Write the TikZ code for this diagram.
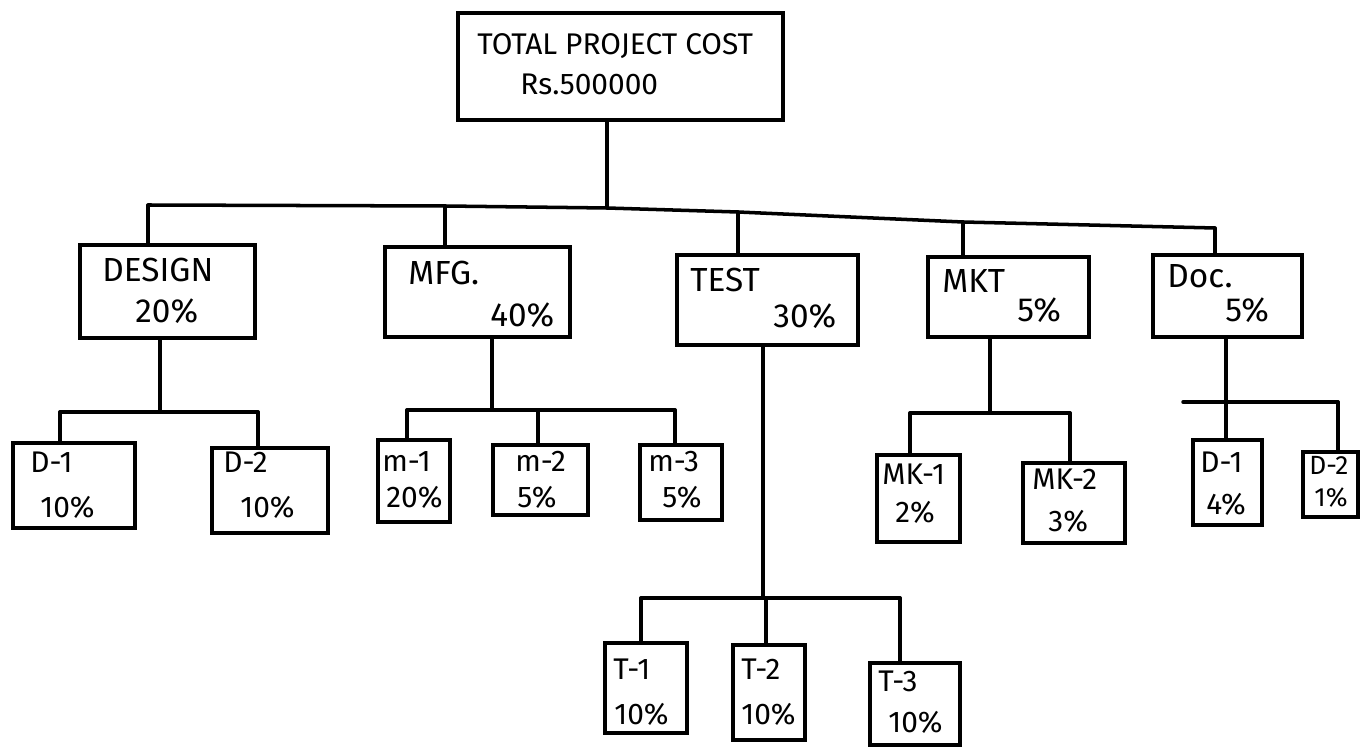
\documentclass[tikz,border=0pt]{standalone}
\usepackage{fontspec}
\setmainfont{Fira Sans}
\usetikzlibrary{fit}
\begin{document}
\begin{tikzpicture}[x=0.02cm,y=-0.02cm,
  box/.style={draw, line width=2pt, rectangle, inner sep=0pt},
  link/.style={line width=2pt, line cap=round, line join=round},
  big/.style={anchor=base west, inner sep=0pt, font=\fontsize{19}{22}\selectfont},
  top/.style={anchor=base west, inner sep=0pt, font=\fontsize{17}{20}\selectfont},
  small/.style={anchor=base west, inner sep=0pt, font=\fontsize{17}{20}\selectfont},
  tiny/.style={anchor=base west, inner sep=0pt, font=\fontsize{15}{18}\selectfont}]
\useasboundingbox[fill=white] (0,0) rectangle (1367,749);

% ---- boxes ----
\node[box, fit={(458,13) (783,120)}] (root) {};
\node[box, fit={(80,245) (255,338)}] (design) {};
\node[box, fit={(385,247) (570,337)}] (mfg) {};
\node[box, fit={(677,255) (858,345)}] (test) {};
\node[box, fit={(928,257) (1089,337)}] (mkt) {};
\node[box, fit={(1153,255) (1302,337)}] (doc) {};

\node[box, fit={(13,443) (135,528)}] (d1) {};
\node[box, fit={(212,448) (328,533)}] (d2) {};
\node[box, fit={(378,440) (450,522)}] (m1) {};
\node[box, fit={(493,445) (588,515)}] (m2) {};
\node[box, fit={(640,445) (722,520)}] (m3) {};
\node[box, fit={(605,643) (687,733)}] (t1) {};
\node[box, fit={(733,645) (805,740)}] (t2) {};
\node[box, fit={(870,663) (960,745)}] (t3) {};
\node[box, fit={(877,455) (960,542)}] (mk1) {};
\node[box, fit={(1023,463) (1125,543)}] (mk2) {};
\node[box, fit={(1193,440) (1262,525)}] (dd1) {};
\node[box, fit={(1303,452) (1358,517)}] (dd2) {};

% ---- labels ----
\node[top] (rootA) at (477,55) {TOTAL PROJECT COST};
\node[top] (rootB) at (520,95) {Rs.500000};
\node[big] (designA) at (102,282) {DESIGN};
\node[big] (designB) at (135,323) {20\%};
\node[big] (mfgA) at (408,285) {MFG.};
\node[big] (mfgB) at (490,327) {40\%};
\node[big] (testA) at (690,292) {TEST};
\node[big] (testB) at (773,328) {30\%};
\node[big] (mktA) at (942,293) {MKT};
\node[big] (mktB) at (1017,322) {5\%};
\node[big] (docA) at (1167,288) {Doc.};
\node[big] (docB) at (1225,322) {5\%};

\node[small] (d1A) at (30,473) {D-1};
\node[small] (d1B) at (40,518) {10\%};
\node[small] (d2A) at (223,473) {D-2};
\node[small] (d2B) at (240,518) {10\%};
\node[small] (m1A) at (382,472) {m-1};
\node[small] (m1B) at (386,508) {20\%};
\node[small] (m2A) at (515,472) {m-2};
\node[small] (m2B) at (517,508) {5\%};
\node[small] (m3A) at (648,472) {m-3};
\node[small] (m3B) at (662,508) {5\%};
\node[small] (t1A) at (613,680) {T-1};
\node[small] (t1B) at (614,725) {10\%};
\node[small] (t2A) at (741,680) {T-2};
\node[small] (t2B) at (741,725) {10\%};
\node[small] (t3A) at (878,692) {T-3};
\node[small] (t3B) at (888,733) {10\%};
\node[small] (mk1A) at (882,485) {MK-1};
\node[small] (mk1B) at (895,523) {2\%};
\node[small] (mk2A) at (1032,490) {MK-2};
\node[small] (mk2B) at (1048,532) {3\%};
\node[small] (dd1A) at (1200,473) {D-1};
\node[small] (dd1B) at (1206,515) {4\%};
\node[tiny] (dd2A) at (1309,475) {D-2};
\node[tiny] (dd2B) at (1314,507) {1\%};

% ---- bar coordinates ----
\coordinate (b0L) at (148,205);
\coordinate (b0M) at (445,206);
\coordinate (j0)  at (607,208);
\coordinate (b0T) at (738,212);
\coordinate (b0K) at (963,222);
\coordinate (b0R) at (1215,228);

\coordinate (jd)  at (160,412);
\coordinate (bdL) at (60,412);
\coordinate (bdR) at (258,412);

\coordinate (jm)  at (492,410);
\coordinate (bm1) at (407,410);
\coordinate (bm2) at (538,410);
\coordinate (bm3) at (675,410);

\coordinate (jt)  at (763,598);
\coordinate (bt1) at (641,598);
\coordinate (bt2) at (766,598);
\coordinate (bt3) at (900,598);

\coordinate (jk)  at (990,413);
\coordinate (bk1) at (910,413);
\coordinate (bk2) at (1070,413);

\coordinate (jc)  at (1226,402);
\coordinate (bcL) at (1183,402);
\coordinate (bc2) at (1338,402);

% ---- connectors ----
\draw[link] (root.south -| j0) -- (j0);
\draw[link] (b0L) -- (b0M) -- (j0) -- (b0T) -- (b0K) -- (b0R);
\draw[link] (b0L) -- (b0L |- design.north);
\draw[link] (b0M) -- (b0M |- mfg.north);
\draw[link] (b0T) -- (b0T |- test.north);
\draw[link] (b0K) -- (b0K |- mkt.north);
\draw[link] (b0R) -- (b0R |- doc.north);

\draw[link] (design.south -| jd) -- (jd);
\draw[link] (bdL) -- (bdR);
\draw[link] (bdL) -- (bdL |- d1.north);
\draw[link] (bdR) -- (bdR |- d2.north);

\draw[link] (mfg.south -| jm) -- (jm);
\draw[link] (bm1) -- (bm3);
\draw[link] (bm1) -- (bm1 |- m1.north);
\draw[link] (bm2) -- (bm2 |- m2.north);
\draw[link] (bm3) -- (bm3 |- m3.north);

\draw[link] (test.south -| jt) -- (jt);
\draw[link] (bt1) -- (bt3);
\draw[link] (bt1) -- (bt1 |- t1.north);
\draw[link] (bt2) -- (bt2 |- t2.north);
\draw[link] (bt3) -- (bt3 |- t3.north);

\draw[link] (mkt.south -| jk) -- (jk);
\draw[link] (bk1) -- (bk2);
\draw[link] (bk1) -- (bk1 |- mk1.north);
\draw[link] (bk2) -- (bk2 |- mk2.north);

\draw[link] (doc.south -| jc) -- (jc |- dd1.north);
\draw[link] (bcL) -- (bc2);
\draw[link] (bc2) -- (bc2 |- dd2.north);
\end{tikzpicture}
\end{document}
